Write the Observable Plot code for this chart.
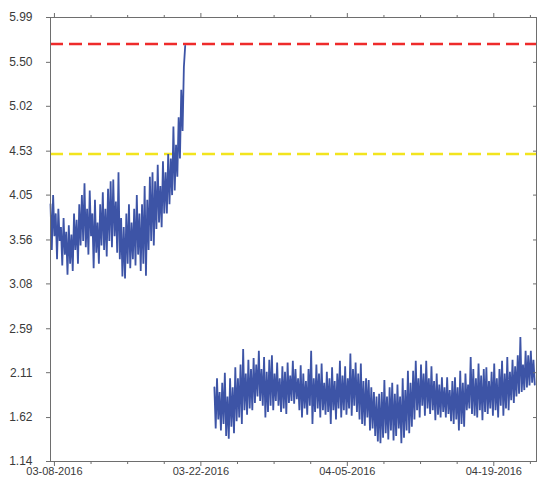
<!DOCTYPE html>
<html><head><meta charset="utf-8">
<script src="https://cdn.jsdelivr.net/npm/d3@7"></script>
<script src="https://cdn.jsdelivr.net/npm/@observablehq/plot@0.6"></script>
<style>body{margin:0;background:#fff}#chart{width:537px;height:477px}</style>
</head><body><div id="chart"></div>
<script>
// ---- data ----
const yTickLabels = ["1.14","1.62","2.11","2.59","3.08","3.56","4.05","4.53","5.02","5.50","5.99"];
const xTickLabels = ["03-08-2016","03-22-2016","04-05-2016","04-19-2016"];
const redLevel = 5.70;
const yellowLevel = 4.50;
const domainStart = "2016-03-07T15:00:00Z";
const domainEnd = "2016-04-23T02:00:00Z";
const seg1Start = "2016-03-07T15:00:00Z";
const seg2Start = "2016-03-23T07:00:00Z";
const stepHours = 3;
const seg1Values = [
  3.95,3.45,4.05,3.60,3.85,3.35,3.90,3.55,
  3.70,3.28,3.80,3.40,3.65,3.18,3.72,3.30,
  3.62,3.22,3.85,3.45,3.78,3.30,3.95,3.50,
  4.05,3.55,4.18,3.48,3.90,3.40,4.10,3.60,
  3.85,3.25,4.00,3.42,3.75,3.30,3.95,3.50,
  4.08,3.45,3.90,3.38,4.12,3.55,4.20,3.48,
  4.22,3.60,3.98,3.42,4.30,3.35,3.80,3.16,
  3.70,3.14,3.85,3.30,3.95,3.25,3.75,3.35,
  3.90,3.28,4.05,3.40,3.85,3.22,3.95,3.30,
  4.15,3.17,4.00,3.45,4.25,3.55,4.30,3.50,
  4.20,3.68,4.38,3.75,4.15,3.70,4.42,3.85,
  4.30,3.85,4.50,3.95,4.45,4.05,4.80,4.10,
  4.60,4.25,4.90,4.45,5.20,4.75,5.45,5.68
];
const seg2Values = [
  1.95,1.50,2.05,1.60,1.90,1.48,2.00,1.55,
  2.11,1.42,1.85,1.39,2.05,1.52,1.95,1.45,
  2.17,1.58,2.05,1.62,2.20,1.55,2.37,1.70,
  2.10,1.65,2.25,1.72,2.15,1.70,2.27,1.78,
  2.20,1.85,2.35,1.80,2.15,1.75,2.28,1.62,
  2.12,1.68,2.25,1.75,2.30,1.70,2.10,1.80,
  2.22,1.75,2.05,1.68,2.18,1.72,2.12,1.66,
  2.22,1.78,2.08,1.80,2.24,1.77,2.15,1.82,
  2.05,1.70,2.19,1.62,2.10,1.72,2.02,1.65,
  2.15,1.75,2.35,1.55,2.05,1.68,2.20,1.72,
  2.10,1.62,2.21,1.70,2.00,1.65,2.12,1.68,
  2.05,1.55,2.17,1.70,2.02,1.60,2.10,1.72,
  2.24,1.62,2.08,1.70,2.18,1.65,2.05,1.72,
  2.32,1.64,2.15,1.75,2.22,1.68,2.10,1.60,
  2.21,1.55,2.02,1.53,2.05,1.62,2.03,1.48,
  1.95,1.50,1.90,1.42,1.85,1.36,1.88,1.34,
  1.90,1.40,2.03,1.45,1.85,1.38,1.95,1.48,
  2.00,1.37,1.88,1.42,1.98,1.50,1.85,1.34,
  2.05,1.40,1.92,1.48,2.13,1.45,2.00,1.52,
  2.13,1.60,2.24,1.70,2.05,1.62,2.20,1.75,
  2.10,1.64,2.24,1.72,2.05,1.66,2.18,1.70,
  2.02,1.59,2.10,1.65,1.98,1.62,2.06,1.68,
  1.95,1.62,2.06,1.66,1.92,1.58,2.02,1.55,
  2.06,1.60,1.95,1.48,2.13,1.55,2.00,1.52,
  2.10,1.70,1.98,1.72,2.28,1.66,2.15,1.64,
  2.05,1.62,2.21,1.70,2.08,1.59,2.15,1.68,
  2.17,1.66,2.02,1.72,2.12,1.64,2.21,1.70,
  2.05,1.62,2.15,1.75,2.24,1.64,2.10,1.72,
  2.28,1.70,2.12,1.81,2.25,1.78,2.18,1.85,
  2.30,1.88,2.50,1.90,2.20,1.92,2.35,1.95,
  2.30,1.97,2.35,2.00,2.25,1.98
];

// ---- build rows ----
const H = 3600e3;
const toRows = (start, vals, seg) => {
  const t0 = new Date(start).getTime();
  return vals.map((v, i) => ({t: new Date(t0 + i * stepHours * H), v, seg}));
};
const rows = [...toRows(seg1Start, seg1Values, 1), ...toRows(seg2Start, seg2Values, 2)];

const parseX = d3.utcParse("%m-%d-%Y");
const majorTicks = xTickLabels.map(parseX);
const minorTicks = [];
for (let k = 0; k < majorTicks.length; k++) {
  for (let j = 1; j < 4; j++) {
    const d = new Date(majorTicks[k].getTime() + j * 84 * H);
    if (d <= new Date(domainEnd)) minorTicks.push(d);
  }
}
const yTicks = yTickLabels.map(Number);
const fmtX = d3.utcFormat("%m-%d-%Y");
const axisStroke = "#6e6e6e";

const chart = Plot.plot({
  width: 537,
  height: 477,
  marginLeft: 50,
  marginRight: 1,
  marginTop: 17,
  marginBottom: 16,
  style: {fontFamily: "'Liberation Sans', Arial, sans-serif", color: "#3a3a3a", background: "#fff"},
  x: {type: "utc", domain: [new Date(domainStart), new Date(domainEnd)], label: null},
  y: {domain: [1.14, 5.99], label: null},
  marks: [
    Plot.ruleY([yellowLevel], {stroke: "#f2e41e", strokeWidth: 2.5, strokeDasharray: "13,6"}),
    Plot.ruleY([redLevel], {stroke: "#ee2b2b", strokeWidth: 2.5, strokeDasharray: "13,6"}),
    Plot.line(rows, {x: "t", y: "v", z: "seg", stroke: "#3d54a6", strokeWidth: 1.8, strokeLinejoin: "miter"}),
    Plot.frame({stroke: axisStroke}),
    Plot.axisY({ticks: yTicks, tickFormat: (d, i) => yTickLabels[i], tickSize: 4, tickPadding: 14, fontSize: 12, stroke: axisStroke, label: null}),
    Plot.axisY({anchor: "right", ticks: yTicks, tickFormat: () => "", tickSize: -4, stroke: axisStroke, label: null}),
    Plot.axisX({ticks: majorTicks, tickFormat: fmtX, tickSize: 5, tickPadding: 1, fontSize: 11, stroke: axisStroke, label: null}),
    Plot.axisX({ticks: minorTicks, tickFormat: () => "", tickSize: 3, stroke: axisStroke, label: null}),
    Plot.axisX({anchor: "top", ticks: majorTicks, tickFormat: () => "", tickSize: 5, stroke: axisStroke, label: null}),
    Plot.axisX({anchor: "top", ticks: minorTicks, tickFormat: () => "", tickSize: 3, stroke: axisStroke, label: null})
  ]
});
document.getElementById("chart").appendChild(chart);
</script>
</body></html>
